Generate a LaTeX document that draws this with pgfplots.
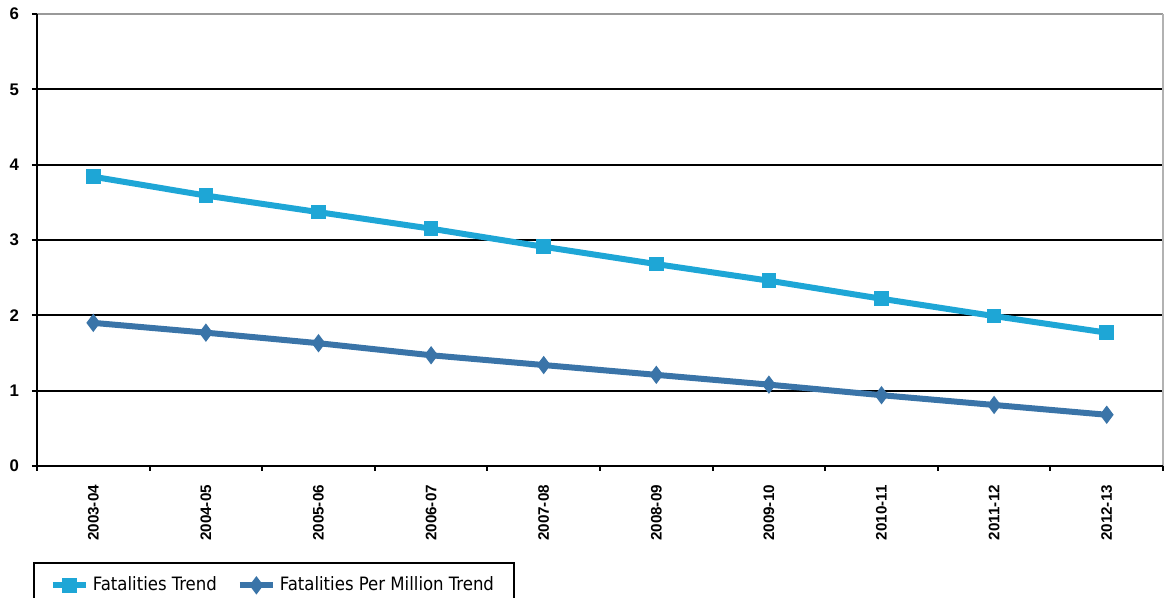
\documentclass[border=0pt]{standalone}
\usepackage{pgfplots}
\pgfplotsset{compat=1.18}
\usepackage{fontspec}
\setmainfont{Liberation Sans}
\newfontfamily\legfont{DejaVu Sans Condensed}
\definecolor{lightb}{HTML}{1EA6D6}
\definecolor{darkb}{HTML}{3A74A8}
\begin{document}
\begin{tikzpicture}[x=1pt,y=1pt]
\useasboundingbox (-18.5pt,-66pt) rectangle (565pt,233pt);
\begin{axis}[
  at={(0,0)}, anchor=south west,
  scale only axis, width=563pt, height=226pt,
  xmin=-0.5, xmax=9.5, ymin=0, ymax=6,
  xtick={0,...,9},
  xticklabels={2003-04,2004-05,2005-06,2006-07,2007-08,2008-09,2009-10,2010-11,2011-12,2012-13},
  minor xtick={-0.5,0.5,...,9.5},
  ytick={0,...,6},
  tick pos=left,
  tick align=outside,
  /pgf/number format/assume math mode=true,
  major x tick style={draw=none},
  minor tick length=2.5pt, major tick length=2.5pt,
  tick style={black, line width=1pt},
  x tick label style={rotate=90, anchor=east, font=\bfseries\fontsize{7.6}{9}\selectfont, xshift=-3.5pt},
  y tick label style={font=\bfseries\fontsize{8.4}{9}\selectfont, xshift=-3pt},
  ymajorgrids, grid style={black, line width=1pt},
  axis line style={draw=none},
  legend style={at={(rel axis cs:-0.0036,-0.212)}, anchor=north west, draw=black, line width=1pt,
    font=\legfont\fontsize{9.2}{10}\selectfont, inner xsep=8pt, inner ysep=5pt,
    /tikz/every even column/.append style={column sep=8pt}},
  legend columns=2,
  legend image code/.code={\draw[#1, mark repeat=2, mark phase=2] plot coordinates {(0pt,0pt) (8.25pt,0pt) (16.5pt,0pt)};},
  clip=false,
]
\addplot[color=lightb, line width=3pt, mark=square*, mark size=3.4pt, mark options={line width=0.5pt, rounded corners=1.5pt}] coordinates {
(0,3.84) (1,3.59) (2,3.37) (3,3.15) (4,2.91) (5,2.68) (6,2.46) (7,2.22) (8,1.99) (9,1.77)};
\addlegendentry{Fatalities Trend}
\addplot[color=darkb, line width=3pt, mark=diamond*, mark size=4.2pt, mark options={line width=0.5pt}] coordinates {
(0,1.90) (1,1.77) (2,1.63) (3,1.47) (4,1.34) (5,1.21) (6,1.08) (7,0.94) (8,0.81) (9,0.68)};
\addlegendentry{Fatalities Per Million Trend}
\draw[gray!80, line width=1pt] (axis cs:-0.5,6) -- (axis cs:9.5,6);
\draw[gray!60, line width=1pt] (axis cs:9.5,0) -- (axis cs:9.5,6);
\draw[black, line width=1.2pt] (axis cs:-0.5,0) -- (axis cs:-0.5,6);
\draw[black, line width=1.2pt] (axis cs:-0.5,0) -- (axis cs:9.5,0);
\end{axis}
\end{tikzpicture}
\end{document}
